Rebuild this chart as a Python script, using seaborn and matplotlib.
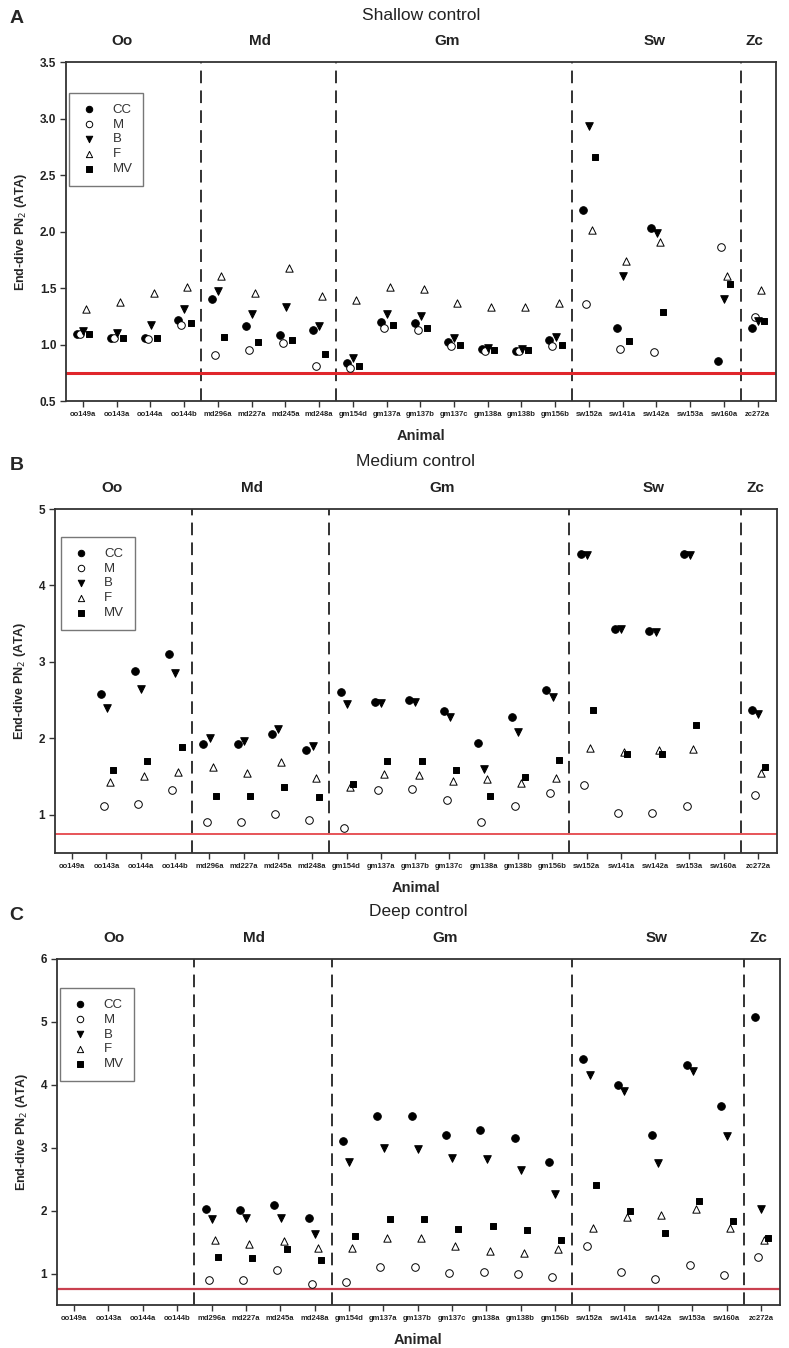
import numpy as np
import pandas as pd
import matplotlib
matplotlib.use("Agg")
import matplotlib.pyplot as plt
import seaborn as sns

nan = np.nan

animals = ["oo149a", "oo143a", "oo144a", "oo144b",
           "md296a", "md227a", "md245a", "md248a",
           "gm154d", "gm137a", "gm137b", "gm137c", "gm138a", "gm138b", "gm156b",
           "sw152a", "sw141a", "sw142a", "sw153a", "sw160a",
           "zc272a"]
groups = ["Oo", "Md", "Gm", "Sw", "Zc"]
group_centers = [1.15, 5.25, 10.8, 16.95, 19.92]
group_breaks = [3.5, 7.5, 14.5, 19.5]
measures = ["CC", "M", "B", "F", "MV"]

# Shallow control
shallow_cc = [1.09, 1.06, 1.06, 1.22, 1.40, 1.16, 1.08, 1.13, 0.84, 1.20, 1.19, 1.02, 0.96, 0.94, 1.04, 2.19, 1.15, 2.03, nan, 0.85, 1.15]
shallow_m = [1.09, 1.06, 1.05, 1.17, 0.91, 0.95, 1.01, 0.81, 0.79, 1.15, 1.13, 0.99, 0.94, 0.94, 0.99, 1.36, 0.96, 0.93, nan, 1.86, 1.24]
shallow_b = [1.12, 1.10, 1.17, 1.31, 1.47, 1.27, 1.33, 1.16, 0.88, 1.27, 1.25, 1.06, 0.97, 0.96, 1.07, 2.93, 1.61, 1.99, nan, 1.40, 1.21]
shallow_f = [1.31, 1.38, 1.46, 1.51, 1.61, 1.46, 1.68, 1.43, 1.39, 1.51, 1.49, 1.37, 1.33, 1.33, 1.37, 2.01, 1.74, 1.91, nan, 1.61, 1.48]
shallow_mv = [1.09, 1.06, 1.06, 1.19, 1.07, 1.02, 1.04, 0.92, 0.81, 1.17, 1.15, 1.00, 0.95, 0.95, 1.00, 2.66, 1.03, 1.29, nan, 1.54, 1.21]

# Medium control
medium_cc = [nan, 2.58, 2.88, 3.10, 1.93, 1.93, 2.06, 1.85, 2.60, 2.48, 2.50, 2.36, 1.94, 2.28, 2.63, 4.41, 3.43, 3.40, 4.41, nan, 2.37]
medium_m = [nan, 1.12, 1.14, 1.32, 0.90, 0.91, 1.01, 0.93, 0.83, 1.33, 1.34, 1.20, 0.91, 1.11, 1.29, 1.39, 1.02, 1.02, 1.11, nan, 1.26]
medium_b = [nan, 2.40, 2.64, 2.86, 2.00, 1.97, 2.12, 1.90, 2.45, 2.46, 2.48, 2.28, 1.60, 2.08, 2.54, 4.40, 3.43, 3.39, 4.40, nan, 2.32]
medium_f = [nan, 1.43, 1.51, 1.56, 1.63, 1.55, 1.69, 1.48, 1.36, 1.53, 1.52, 1.44, 1.47, 1.41, 1.48, 1.88, 1.82, 1.85, 1.86, nan, 1.55]
medium_mv = [nan, 1.59, 1.70, 1.89, 1.24, 1.24, 1.36, 1.23, 1.40, 1.71, 1.71, 1.58, 1.25, 1.49, 1.72, 2.37, 1.80, 1.79, 2.17, nan, 1.62]

# Deep control
deep_cc = [nan, nan, nan, nan, 2.02, 2.01, 2.09, 1.88, 3.11, 3.50, 3.50, 3.20, 3.28, 3.15, 2.77, 4.41, 3.99, 3.20, 4.31, 3.66, 5.07]
deep_m = [nan, nan, nan, nan, 0.90, 0.89, 1.05, 0.84, 0.86, 1.10, 1.10, 1.01, 1.03, 1.00, 0.95, 1.44, 1.03, 0.92, 1.14, 0.98, 1.26]
deep_b = [nan, nan, nan, nan, 1.86, 1.89, 1.89, 1.63, 2.77, 2.99, 2.98, 2.83, 2.82, 2.65, 2.26, 4.16, 3.90, 2.75, 4.22, 3.18, 2.03]
deep_f = [nan, nan, nan, nan, 1.54, 1.47, 1.51, 1.40, 1.40, 1.56, 1.56, 1.44, 1.36, 1.33, 1.39, 1.72, 1.90, 1.93, 2.02, 1.72, 1.53]
deep_mv = [nan, nan, nan, nan, 1.26, 1.25, 1.39, 1.21, 1.59, 1.87, 1.86, 1.71, 1.75, 1.69, 1.53, 2.40, 1.99, 1.65, 2.16, 1.84, 1.56]

threshold = 0.75

# marker look per measure: (marker, face, size, offset)
styles = {
    "CC": ("o", "black", 30, -0.17),
    "M": ("o", "white", 30, -0.08),
    "B": ("v", "black", 30, 0.01),
    "F": ("^", "white", 28, 0.10),
    "MV": ("s", "black", 22, 0.19),
}

panels = [
    dict(letter="A", title="Shallow control",
         data=[shallow_cc, shallow_m, shallow_b, shallow_f, shallow_mv],
         ylim=(0.5, 3.5), yticks=np.arange(0.5, 3.51, 0.5), fmt="{:.1f}",
         rect=[0.0837, 0.7025, 0.900, 0.2515], leg=(0.004, 0.909), redlw=2.2, red="#e0262b"),
    dict(letter="B", title="Medium control",
         data=[medium_cc, medium_m, medium_b, medium_f, medium_mv],
         ylim=(0.5, 5), yticks=[1, 2, 3, 4, 5], fmt="{:.0f}",
         rect=[0.0697, 0.3672, 0.915, 0.2552], leg=(0.008, 0.919), redlw=1.1, red="#e0262b"),
    dict(letter="C", title="Deep control",
         data=[deep_cc, deep_m, deep_b, deep_f, deep_mv],
         ylim=(0.5, 6), yticks=[1, 2, 3, 4, 5, 6], fmt="{:.0f}",
         rect=[0.0722, 0.0319, 0.9163, 0.2567], leg=(0.004, 0.916), redlw=1.6, red="#c9404f"),
]

sns.set_style("ticks")
plt.rcParams['font.family'] = ['Liberation Sans', 'DejaVu Sans']

fig = plt.figure(figsize=(7.89, 13.48), dpi=100)
pos = np.arange(len(animals))
spine_c = "#333333"

for p in panels:
    ax = fig.add_axes(p["rect"])
    for name, vals in zip(measures, p["data"]):
        mk, face, s, off = styles[name]
        df = pd.DataFrame({"x": pos + off, "y": vals}).dropna()
        sns.scatterplot(data=df, x="x", y="y", ax=ax, marker=mk, s=s,
                        facecolor=face, edgecolor="black", linewidth=0.7,
                        label=name, zorder=3)

    ax.axhline(threshold, color=p["red"], lw=p["redlw"], zorder=2)
    for b in group_breaks:
        ax.axvline(b, color="#222222", lw=1.3, linestyle=(0, (7, 4)), zorder=1)

    ax.set_xlim(-0.5, 20.55)
    ax.set_ylim(*p["ylim"])
    ax.set_xticks(pos)
    ax.set_xticklabels(animals, fontsize=5.5, fontweight="bold", color="#222222")
    ax.set_yticks(p["yticks"])
    ax.set_yticklabels([p["fmt"].format(v) for v in p["yticks"]],
                       fontsize=8.5, fontweight="bold", color="#222222")
    ax.tick_params(axis="both", direction="out", length=4, width=1, color=spine_c, pad=3)
    for sp in ax.spines.values():
        sp.set_color(spine_c)
        sp.set_linewidth(1.3)

    ax.set_xlabel("Animal", fontsize=10.5, fontweight="bold", labelpad=8)
    ax.set_ylabel("End-dive PN$_2$ (ATA)", fontsize=9, fontweight="bold", labelpad=8)

    for g, c in zip(groups, group_centers):
        ax.text(c, 1.062, g, transform=ax.get_xaxis_transform(), ha="center", va="center",
                fontsize=11, fontweight="bold", color="#222222")
    ax.text(0.5, 1.138, p["title"], transform=ax.transAxes, ha="center", va="center",
            fontsize=12.5, color="#222222")

    r = p["rect"]
    fig.text(0.012, r[1] + r[3] + 0.032, p["letter"], fontsize=14, fontweight="bold",
             ha="left", va="center")

    leg = ax.legend(loc="upper left", bbox_to_anchor=p["leg"], frameon=True, fancybox=False,
                    edgecolor="#555555", fontsize=9.5, markerscale=0.85, labelspacing=0.2,
                    handletextpad=1.0, borderpad=0.8, handlelength=1.5, borderaxespad=0)
    leg.get_frame().set_linewidth(1.0)
    for t in leg.get_texts():
        t.set_color("#333333")

fig.savefig("out.png", dpi=100)
